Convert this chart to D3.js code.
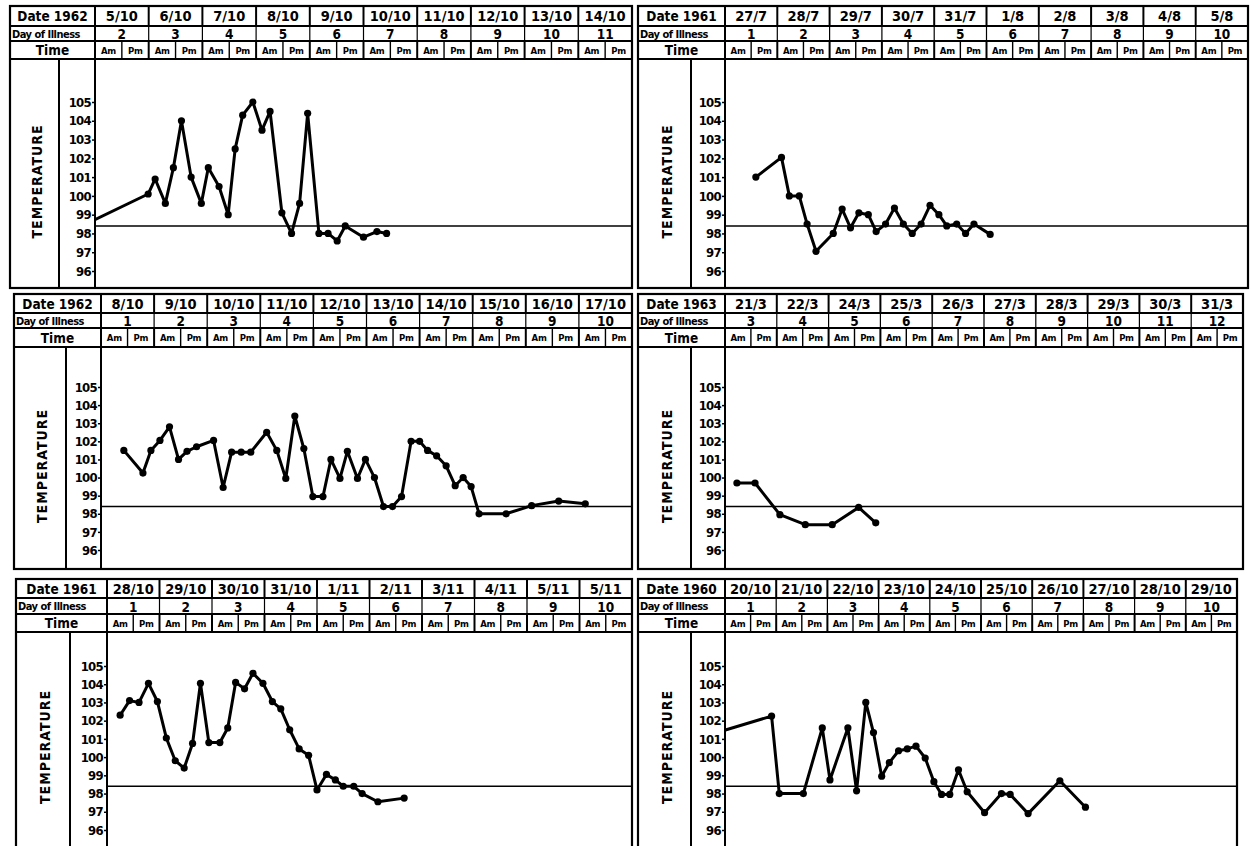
<!DOCTYPE html>
<html>
<head>
<meta charset="utf-8">
<script src="https://cdn.jsdelivr.net/npm/d3@7"></script>
<style>
  body { margin: 0; background: #fff; }
  text { font-family: "DejaVu Sans Condensed", "DejaVu Sans", sans-serif; font-weight: bold; fill: #000; }
</style>
</head>
<body>
<div id="chart"></div>
<script>
// x values are in days from the left edge of the first date column
const yearA = "1962";
const datesA = ["5/10", "6/10", "7/10", "8/10", "9/10", "10/10", "11/10", "12/10", "13/10", "14/10"];
const daysA = [2, 3, 4, 5, 6, 7, 8, 9, 10, 11];
const xA = [-0.1, 0.99, 1.12, 1.31, 1.46, 1.61, 1.79, 1.98, 2.11, 2.31, 2.48, 2.61, 2.75, 2.94, 3.11, 3.26, 3.48, 3.66, 3.81, 3.96, 4.17, 4.34, 4.51, 4.66, 5.0, 5.25, 5.43];
const tempA = [98.6, 100.1, 100.9, 99.6, 101.5, 104.0, 101.0, 99.6, 101.5, 100.5, 99.0, 102.5, 104.3, 105.0, 103.5, 104.5, 99.1, 98.0, 99.6, 104.4, 98.0, 98.0, 97.6, 98.4, 97.8, 98.1, 98.0];

const yearB = "1961";
const datesB = ["27/7", "28/7", "29/7", "30/7", "31/7", "1/8", "2/8", "3/8", "4/8", "5/8"];
const daysB = [1, 2, 3, 4, 5, 6, 7, 8, 9, 10];
const xB = [0.59, 1.08, 1.23, 1.42, 1.57, 1.74, 2.07, 2.24, 2.40, 2.56, 2.74, 2.89, 3.07, 3.24, 3.41, 3.58, 3.75, 3.92, 4.09, 4.24, 4.43, 4.60, 4.76, 5.07];
const tempB = [101.0, 102.05, 100.0, 100.0, 98.5, 97.05, 98.0, 99.3, 98.3, 99.1, 99.0, 98.1, 98.5, 99.35, 98.5, 98.0, 98.5, 99.5, 99.0, 98.4, 98.5, 98.0, 98.5, 97.95];

const yearC = "1962";
const datesC = ["8/10", "9/10", "10/10", "11/10", "12/10", "13/10", "14/10", "15/10", "16/10", "17/10"];
const daysC = [1, 2, 3, 4, 5, 6, 7, 8, 9, 10];
const xC = [0.43, 0.79, 0.94, 1.11, 1.29, 1.46, 1.62, 1.80, 2.12, 2.30, 2.46, 2.64, 2.82, 3.12, 3.31, 3.48, 3.65, 3.82, 3.99, 4.18, 4.33, 4.50, 4.64, 4.83, 4.98, 5.15, 5.32, 5.49, 5.66, 5.84, 6.00, 6.15, 6.32, 6.50, 6.67, 6.82, 6.97, 7.12, 7.63, 8.11, 8.62, 9.12];
const tempC = [101.5, 100.25, 101.5, 102.05, 102.8, 101.0, 101.45, 101.7, 102.05, 99.45, 101.4, 101.4, 101.4, 102.5, 101.5, 99.95, 103.4, 101.6, 98.95, 98.95, 101.0, 99.95, 101.45, 99.95, 101.0, 100.0, 98.4, 98.4, 98.95, 102.0, 102.0, 101.5, 101.2, 100.65, 99.55, 100.0, 99.5, 98.0, 98.0, 98.45, 98.7, 98.55];

const yearD = "1963";
const datesD = ["21/3", "22/3", "24/3", "25/3", "26/3", "27/3", "28/3", "29/3", "30/3", "31/3"];
const daysD = [3, 4, 5, 6, 7, 8, 9, 10, 11, 12];
const xD = [0.23, 0.58, 1.06, 1.55, 2.07, 2.58, 2.91];
const tempD = [99.7, 99.7, 97.95, 97.4, 97.4, 98.35, 97.5];

const yearE = "1961";
const datesE = ["28/10", "29/10", "30/10", "31/10", "1/11", "2/11", "3/11", "4/11", "5/11", "5/11"];
const daysE = [1, 2, 3, 4, 5, 6, 7, 8, 9, 10];
const xE = [0.25, 0.43, 0.61, 0.79, 0.96, 1.13, 1.30, 1.47, 1.63, 1.78, 1.94, 2.15, 2.30, 2.45, 2.62, 2.78, 2.97, 3.15, 3.31, 3.48, 3.66, 3.84, 4.00, 4.18, 4.35, 4.50, 4.70, 4.86, 5.16, 5.66];
const tempE = [102.3, 103.1, 103.0, 104.05, 103.05, 101.05, 99.8, 99.4, 100.75, 104.05, 100.8, 100.8, 101.6, 104.1, 103.75, 104.6, 104.05, 103.05, 102.65, 101.5, 100.45, 100.1, 98.2, 99.05, 98.75, 98.4, 98.4, 98.0, 97.55, 97.75];

const yearF = "1960";
const datesF = ["20/10", "21/10", "22/10", "23/10", "24/10", "25/10", "26/10", "27/10", "28/10", "29/10"];
const daysF = [1, 2, 3, 4, 5, 6, 7, 8, 9, 10];
const xF = [-0.1, 0.91, 1.06, 1.53, 1.90, 2.05, 2.40, 2.57, 2.75, 2.90, 3.06, 3.21, 3.39, 3.56, 3.73, 3.91, 4.08, 4.23, 4.39, 4.56, 4.73, 5.07, 5.40, 5.57, 5.92, 6.54, 7.04];
const tempF = [101.4, 102.25, 98.0, 98.0, 101.6, 98.75, 101.6, 98.15, 103.0, 101.35, 98.95, 99.7, 100.35, 100.45, 100.6, 99.95, 98.65, 97.95, 97.95, 99.3, 98.1, 96.95, 98.0, 97.95, 96.9, 98.7, 97.25];

const tempTicks = [96, 97, 98, 99, 100, 101, 102, 103, 104, 105];
const normalTemp = 98.4;
const halfDays = ["Am", "Pm"];

// layout of the scanned sheet
const width = 1251, height = 846;
const rows = [
  { top: 6, day: 26, time: 41, plot: 59, bottom: 288, y105: 102, y96: 271 },
  { top: 294, day: 313, time: 328, plot: 347, bottom: 569, y105: 387, y96: 550 },
  { top: 579, day: 598, time: 614, plot: 632, bottom: 870, y105: 666, y96: 830 }
];

const panels = [
  { row: 0, x0: 10, xT: 59, xL: 95, xR: 632, year: yearA, dates: datesA, days: daysA, xs: xA, temps: tempA },
  { row: 0, x0: 638, xT: 691, xL: 725, xR: 1248, year: yearB, dates: datesB, days: daysB, xs: xB, temps: tempB },
  { row: 1, x0: 14, xT: 66, xL: 101, xR: 632, year: yearC, dates: datesC, days: daysC, xs: xC, temps: tempC },
  { row: 1, x0: 638, xT: 691, xL: 725, xR: 1243, year: yearD, dates: datesD, days: daysD, xs: xD, temps: tempD },
  { row: 2, x0: 16, xT: 70, xL: 107, xR: 632, year: yearE, dates: datesE, days: daysE, xs: xE, temps: tempE },
  { row: 2, x0: 638, xT: 691, xL: 725, xR: 1237, year: yearF, dates: datesF, days: daysF, xs: xF, temps: tempF }
];

const svg = d3.select("#chart").append("svg")
  .attr("width", width)
  .attr("height", height);

panels.forEach((p, pi) => {
  const r = rows[p.row];
  const g = svg.append("g");

  const x = d3.scaleLinear().domain([0, 10]).range([p.xL, p.xR]);
  const y = d3.scaleLinear().domain([96, 105]).range([r.y96, r.y105]);

  // header grid
  const line = (x1, y1, x2, y2, w) => g.append("line")
    .attr("x1", x1).attr("y1", y1).attr("x2", x2).attr("y2", y2)
    .attr("stroke", "#000").attr("stroke-width", w || 2);

  g.append("rect")
    .attr("x", p.x0).attr("y", r.top)
    .attr("width", p.xR - p.x0).attr("height", r.bottom - r.top)
    .attr("fill", "none").attr("stroke", "#000").attr("stroke-width", 2.2);

  line(p.x0, r.day, p.xR, r.day);
  line(p.x0, r.time, p.xR, r.time);
  line(p.x0, r.plot, p.xR, r.plot);
  line(p.xL, r.top, p.xL, r.bottom);
  line(p.xT, r.plot, p.xT, r.bottom);

  d3.range(1, 10).forEach(i => line(x(i), r.top, x(i), r.day, 2));
  d3.range(1, 10).forEach(i => line(x(i), r.day, x(i), r.time, 1.2));
  d3.range(1, 20).forEach(i => line(x(i / 2), r.time, x(i / 2), r.plot, i % 2 ? 1.4 : 2));

  const labelX = (p.x0 + p.xL) / 2;
  g.append("text").attr("x", labelX).attr("y", (r.top + r.day) / 2)
    .attr("text-anchor", "middle").attr("dominant-baseline", "central")
    .style("font-size", "13.5px").text("Date " + p.year);
  g.append("text").attr("x", p.x0 + 2).attr("y", (r.day + r.time) / 2 + 0.5)
    .attr("dominant-baseline", "central")
    .style("font-size", "11px").style("letter-spacing", "-0.5px").text("Day of Illness");
  g.append("text").attr("x", labelX).attr("y", (r.time + r.plot) / 2)
    .attr("text-anchor", "middle").attr("dominant-baseline", "central")
    .style("font-size", "13.5px").text("Time");

  g.selectAll("text.date").data(p.dates).join("text")
    .attr("class", "date")
    .attr("x", (d, i) => x(i + 0.5)).attr("y", (r.top + r.day) / 2)
    .attr("text-anchor", "middle").attr("dominant-baseline", "central")
    .style("font-size", "14.5px").text(d => d);

  g.selectAll("text.day").data(p.days).join("text")
    .attr("class", "day")
    .attr("x", (d, i) => x(i + 0.5)).attr("y", (r.day + r.time) / 2 + 0.5)
    .attr("text-anchor", "middle").attr("dominant-baseline", "central")
    .style("font-size", "13.5px").text(d => d);

  g.selectAll("text.half").data(d3.range(20)).join("text")
    .attr("class", "half")
    .attr("x", i => x(i / 2 + 0.25)).attr("y", (r.time + r.plot) / 2)
    .attr("text-anchor", "middle").attr("dominant-baseline", "central")
    .style("font-size", "9.5px").style("letter-spacing", "-0.3px")
    .text(i => halfDays[i % 2]);

  // temperature label and scale
  const tempMid = (r.plot + Math.min(r.bottom, height)) / 2;
  g.append("text")
    .attr("transform", `translate(${(p.x0 + p.xT) / 2 + 2},${tempMid + 8}) rotate(-90)`)
    .attr("text-anchor", "middle").attr("dominant-baseline", "central")
    .style("font-size", "14px").style("letter-spacing", "1px").text("TEMPERATURE");

  const axis = g.append("g")
    .attr("transform", `translate(${p.xL},0)`)
    .call(d3.axisLeft(y).tickValues(tempTicks).tickSize(3).tickPadding(1).tickFormat(d3.format("d")));
  axis.select(".domain").remove();
  axis.selectAll(".tick line").attr("stroke", "#000").attr("stroke-width", 1.5);
  axis.selectAll(".tick text")
    .style("font-family", '"DejaVu Sans Condensed", sans-serif')
    .style("font-weight", "bold").style("font-size", "13px").style("letter-spacing", "-0.7px");

  // normal line
  line(p.xL, y(normalTemp), p.xR, y(normalTemp), 1.5);

  // chart
  const clipId = "clip" + pi;
  svg.append("defs").append("clipPath").attr("id", clipId)
    .append("rect").attr("x", p.xL).attr("y", r.plot)
    .attr("width", p.xR - p.xL).attr("height", r.bottom - r.plot);

  const pts = p.xs.map((d, i) => [d, p.temps[i]]);
  const plot = g.append("g").attr("clip-path", `url(#${clipId})`);
  plot.append("path")
    .datum(pts)
    .attr("fill", "none").attr("stroke", "#000").attr("stroke-width", 3)
    .attr("stroke-linejoin", "round")
    .attr("d", d3.line().x(d => x(d[0])).y(d => y(d[1])));
  plot.selectAll("circle").data(pts.filter(d => d[0] >= 0)).join("circle")
    .attr("cx", d => x(d[0])).attr("cy", d => y(d[1]))
    .attr("r", 3.6).attr("fill", "#000");
});
</script>
</body>
</html>
